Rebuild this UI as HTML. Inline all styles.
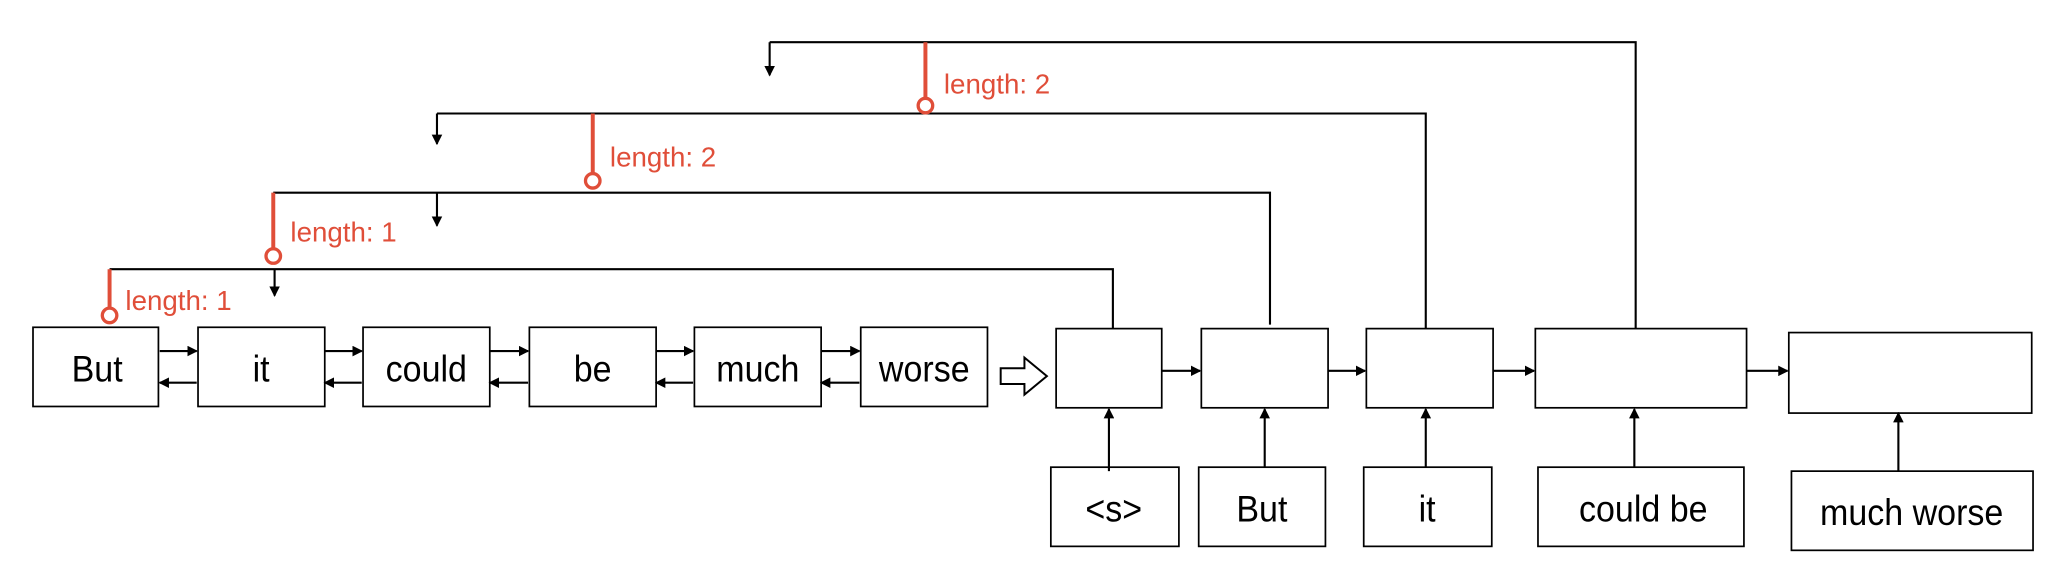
<!DOCTYPE html>
<html><head><style>html,body{margin:0;padding:0;background:#fff}svg{display:block}</style></head>
<body>
<svg width="2070" height="582" viewBox="0 0 1568 441" preserveAspectRatio="none" xmlns="http://www.w3.org/2000/svg">
<defs>
<marker id="a" markerWidth="8" markerHeight="8" refX="7" refY="4" orient="auto" markerUnits="userSpaceOnUse"><path d="M0,0 L8,4 L0,8 z" fill="#000"/></marker>
</defs>
<g fill="#fff" stroke="#000" stroke-width="1.3">
<rect x="25" y="248" width="95" height="60"/>
<rect x="150" y="248" width="96" height="60"/>
<rect x="275" y="248" width="96" height="60"/>
<rect x="401" y="248" width="96" height="60"/>
<rect x="526" y="248" width="96" height="60"/>
<rect x="652" y="248" width="96" height="60"/>
<rect x="800" y="249" width="80" height="60"/>
<rect x="910" y="249" width="96" height="60"/>
<rect x="1035" y="249" width="96" height="60"/>
<rect x="1163" y="249" width="160" height="60"/>
<rect x="1355" y="252" width="184" height="61"/>
<rect x="796" y="354" width="97" height="60"/>
<rect x="908" y="354" width="96" height="60"/>
<rect x="1033" y="354" width="97" height="60"/>
<rect x="1165" y="354" width="156" height="60"/>
<rect x="1357" y="357" width="183" height="60"/>
</g>
<g font-family="'Liberation Sans',sans-serif" font-size="28" text-anchor="middle" fill="#000" transform="scale(0.92,1)">
<text x="80" y="289">But</text><text x="215" y="289">it</text><text x="351" y="289">could</text>
<text x="488" y="289">be</text><text x="624" y="289">much</text><text x="761" y="289">worse</text>
<text x="917" y="395">&lt;s&gt;</text><text x="1039" y="395">But</text><text x="1175" y="395">it</text>
<text x="1353" y="395">could be</text><text x="1574" y="398">much worse</text>
</g>
<g stroke="#000" stroke-width="1.6" fill="none" marker-end="url(#a)">
<line x1="121" y1="266" x2="149" y2="266"/><line x1="149" y1="290" x2="121" y2="290"/>
<line x1="246" y1="266" x2="274" y2="266"/><line x1="274" y1="290" x2="246" y2="290"/>
<line x1="371" y1="266" x2="400" y2="266"/><line x1="400" y1="290" x2="371" y2="290"/>
<line x1="497" y1="266" x2="525" y2="266"/><line x1="525" y1="290" x2="497" y2="290"/>
<line x1="622" y1="266" x2="651" y2="266"/><line x1="651" y1="290" x2="622" y2="290"/>
<line x1="880" y1="281" x2="909" y2="281"/><line x1="1006" y1="281" x2="1034" y2="281"/>
<line x1="1131" y1="281" x2="1162" y2="281"/><line x1="1323" y1="281" x2="1354" y2="281"/>
<line x1="840" y1="357" x2="840" y2="310"/><line x1="958" y1="354" x2="958" y2="310"/>
<line x1="1080" y1="354" x2="1080" y2="310"/><line x1="1238" y1="354" x2="1238" y2="310"/>
<line x1="1438" y1="357" x2="1438" y2="313"/>
<line x1="208" y1="204" x2="208" y2="224"/><line x1="331" y1="146" x2="331" y2="171"/>
<line x1="331" y1="86" x2="331" y2="109"/><line x1="583" y1="32" x2="583" y2="57"/>
</g>
<g stroke="#000" stroke-width="1.6" fill="none">
<polyline points="83,204 843,204 843,249"/>
<polyline points="207,146 962,146 962,246"/>
<polyline points="331,86 1080,86 1080,249"/>
<polyline points="583,32 1239,32 1239,249"/>
</g>
<path d="M758,279 L776,279 L776,271 L793,285 L776,299 L776,291 L758,291 z" fill="#fff" stroke="#000" stroke-width="1.5"/>
<g stroke="#e04e39" stroke-width="3" fill="#fff">
<line x1="83" y1="204" x2="83" y2="234"/><circle cx="83" cy="239" r="5.5" stroke-width="2.5"/>
<line x1="207" y1="146" x2="207" y2="189"/><circle cx="207" cy="194" r="5.5" stroke-width="2.5"/>
<line x1="449" y1="86" x2="449" y2="132"/><circle cx="449" cy="137" r="5.5" stroke-width="2.5"/>
<line x1="701" y1="32" x2="701" y2="75"/><circle cx="701" cy="80" r="5.5" stroke-width="2.5"/>
</g>
<g font-family="'Liberation Sans',sans-serif" font-size="21" fill="#e04e39">
<text x="95" y="235">length: 1</text>
<text x="220" y="183">length: 1</text>
<text x="462" y="126">length: 2</text>
<text x="715" y="71">length: 2</text>
</g>
</svg>
</body></html>
